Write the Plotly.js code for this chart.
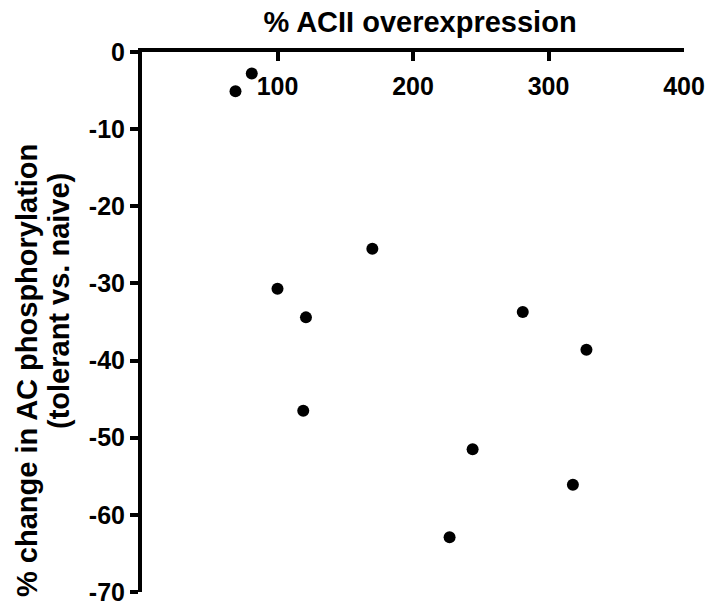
<!DOCTYPE html>
<html>
<head>
<meta charset="utf-8">
<script src="https://cdn.plot.ly/plotly-3.0.1.min.js"></script>
<style>html,body{margin:0;padding:0;background:#fff;}#chart{width:709px;height:609px;}</style>
</head>
<body>
<div id="chart"></div>
<script>
// Data
const acIIOverexpression = [69, 81, 170, 100, 121, 119, 281, 328, 244, 318, 227];
const phosphorylationChange = [-5.1, -2.8, -25.5, -30.7, -34.4, -46.5, -33.7, -38.6, -51.5, -56.1, -62.9];

const xTickVals = [100, 200, 300, 400];
const xTickText = ['100', '200', '300', '400'];
const yTickVals = [0, -10, -20, -30, -40, -50, -60, -70];
const yTickText = ['0', '-10', '-20', '-30', '-40', '-50', '-60', '-70'];

const chartTitle = '% ACII overexpression';
const yTitleLine1 = '% change in AC phosphorylation';
const yTitleLine2 = '(tolerant vs. naive)';

const FONT = '"Liberation Sans", Arial, Helvetica, sans-serif';
const bold = s => '<b>' + s + '</b>';

const trace = {
  type: 'scatter',
  mode: 'markers',
  x: acIIOverexpression,
  y: phosphorylationChange,
  marker: {color: '#000', size: 12},
  cliponaxis: false,
  hoverinfo: 'x+y'
};

const layout = {
  width: 709,
  height: 609,
  margin: {l: 142, r: 25, t: 52, b: 17, pad: 0},
  paper_bgcolor: '#fff',
  plot_bgcolor: '#fff',
  showlegend: false,
  font: {family: FONT, color: '#000'},
  title: {
    text: bold(chartTitle),
    font: {family: FONT, size: 29, color: '#000'},
    xref: 'container', yref: 'container',
    x: 420 / 709, xanchor: 'center',
    y: 1 - 22 / 609, yanchor: 'middle'
  },
  xaxis: {
    side: 'top',
    range: [0, 400],
    showgrid: false,
    zeroline: false,
    showline: true,
    linecolor: '#000',
    linewidth: 4,
    ticks: 'inside',
    ticklen: 9,
    tickwidth: 4,
    tickcolor: '#000',
    tickvals: xTickVals,
    ticktext: xTickText.map(bold),
    ticklabelposition: 'inside',
    ticklabeloverflow: 'allow',
    ticklabelstandoff: 18,
    tickfont: {family: FONT, size: 25, color: '#000'}
  },
  yaxis: {
    range: [-70, 0],
    showgrid: false,
    zeroline: false,
    showline: true,
    linecolor: '#000',
    linewidth: 4,
    ticks: 'outside',
    ticklen: 8,
    tickwidth: 4,
    tickcolor: '#000',
    tickvals: yTickVals,
    ticktext: yTickText.map(bold),
    ticklabeloverflow: 'allow',
    tickfont: {family: FONT, size: 25, color: '#000'}
  },
  annotations: [
    {
      text: bold(yTitleLine1), textangle: -90, showarrow: false,
      xref: 'paper', yref: 'paper',
      x: (27 - 142) / 542, y: (592 - 371) / 540,
      xanchor: 'center', yanchor: 'middle',
      font: {family: FONT, size: 29, color: '#000'}
    },
    {
      text: bold(yTitleLine2), textangle: -90, showarrow: false,
      xref: 'paper', yref: 'paper',
      x: (59 - 142) / 542, y: (592 - 301) / 540,
      xanchor: 'center', yanchor: 'middle',
      font: {family: FONT, size: 29, color: '#000'}
    }
  ]
};

Plotly.newPlot('chart', [trace], layout, {displayModeBar: false, staticPlot: true});
</script>
</body>
</html>
